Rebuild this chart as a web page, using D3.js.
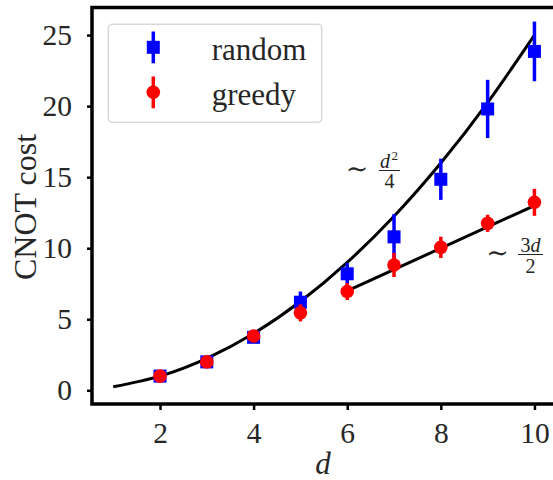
<!DOCTYPE html>
<html>
<head>
<meta charset="utf-8">
<script src="https://cdn.jsdelivr.net/npm/d3@7/dist/d3.min.js"></script>
<style>
  html, body { margin: 0; padding: 0; background: #fff; }
  svg { display: block; }
</style>
</head>
<body>
<svg id="chart" width="553" height="480"></svg>
<script>
// ---- data ----
const dims = [2, 3, 4, 5, 6, 7, 8, 9, 10];
const randomMean = [1.0, 2.0, 3.73, 6.2, 8.2, 10.8, 14.85, 19.8, 23.85];
const randomErr  = [0.1, 0.1, 0.2, 0.75, 0.75, 1.6, 1.45, 2.05, 2.1];
const greedyMean = [1.0, 2.0, 3.82, 5.45, 6.95, 8.82, 10.06, 11.75, 13.23];
const greedyErr  = [0.1, 0.1, 0.15, 0.6, 0.6, 0.85, 0.75, 0.6, 0.95];
// guide curves
const quadFitD = [1, 2, 3, 4, 5, 6, 7, 8, 9, 10];
const quadFitY = [0.25, 1, 2.25, 4, 6.25, 9, 12.25, 16, 20.25, 25];
const linFitD = [6, 10];
const linFitY = [7, 13];
const xTicks = [2, 4, 6, 8, 10];
const yTicks = [0, 5, 10, 15, 20, 25];
const seriesNames = ["random", "greedy"];

// ---- layout ----
const svg = d3.select("#chart");
const mLeft = 92, mRight = 555.5, mTop = 7.5, mBottom = 404;
const x = d3.scaleLinear().domain([0.547, 10.45]).range([mLeft, mRight]);
const y = d3.scaleLinear().domain([-0.964, 26.94]).range([mBottom, mTop]);
const serif = "'Liberation Serif', 'DejaVu Serif', serif";
const blue = "#0000ff", red = "#ff0000";

// axes
const yAxis = svg.append("g").attr("transform", `translate(${mLeft},0)`)
  .call(d3.axisLeft(y).tickValues(yTicks).tickSize(5).tickPadding(15).tickFormat(d3.format("d")));
const xAxis = svg.append("g").attr("transform", `translate(0,${mBottom})`)
  .call(d3.axisBottom(x).tickValues(xTicks).tickSize(6).tickPadding(12).tickFormat(d3.format("d")));
[xAxis, yAxis].forEach(g => {
  g.select(".domain").remove();
  g.selectAll(".tick line").attr("stroke", "#000").attr("stroke-width", 2.5);
  g.selectAll(".tick text").attr("fill", "#262626").style("font-family", serif).style("font-size", "29.5px");
});

// guide curves
svg.append("path")
  .datum(quadFitD.map((d, i) => [d, quadFitY[i]]))
  .attr("d", d3.line().x(d => x(d[0])).y(d => y(d[1])).curve(d3.curveNatural))
  .attr("fill", "none").attr("stroke", "#000").attr("stroke-width", 3);
svg.append("path")
  .datum(linFitD.map((d, i) => [d, linFitY[i]]))
  .attr("d", d3.line().x(d => x(d[0])).y(d => y(d[1])))
  .attr("fill", "none").attr("stroke", "#000").attr("stroke-width", 3);

// error bars + markers
function drawSeries(means, errs, color, shape) {
  const g = svg.append("g");
  dims.forEach((d, i) => {
    g.append("line")
      .attr("x1", x(d)).attr("x2", x(d))
      .attr("y1", y(means[i] - errs[i])).attr("y2", y(means[i] + errs[i]))
      .attr("stroke", color).attr("stroke-width", 3.5);
    if (shape === "square") {
      g.append("rect").attr("x", x(d) - 6.5).attr("y", y(means[i]) - 6.5)
        .attr("width", 13).attr("height", 13).attr("fill", color);
    } else {
      g.append("circle").attr("cx", x(d)).attr("cy", y(means[i])).attr("r", 6.8).attr("fill", color);
    }
  });
}
drawSeries(randomMean, randomErr, blue, "square");
drawSeries(greedyMean, greedyErr, red, "circle");

// frame
svg.append("rect").attr("x", mLeft).attr("y", mTop)
  .attr("width", mRight - mLeft).attr("height", mBottom - mTop)
  .attr("fill", "none").attr("stroke", "#000").attr("stroke-width", 3.5);

// legend
const lg = svg.append("g");
lg.append("rect").attr("x", 108.3).attr("y", 24.3).attr("width", 213.4).attr("height", 98)
  .attr("rx", 4).attr("fill", "#fff").attr("fill-opacity", 0.8)
  .attr("stroke", "#d8d8d8").attr("stroke-width", 1.5);
const legendY = [47.3, 92.3];
[[blue, "square"], [red, "circle"]].forEach(([c, s], i) => {
  const cy = legendY[i];
  lg.append("line").attr("x1", 153.3).attr("x2", 153.3).attr("y1", cy - 15.8).attr("y2", cy + 16)
    .attr("stroke", c).attr("stroke-width", 3.5);
  if (s === "square") {
    lg.append("rect").attr("x", 153.3 - 6.5).attr("y", cy - 6.5).attr("width", 13).attr("height", 13).attr("fill", c);
  } else {
    lg.append("circle").attr("cx", 153.3).attr("cy", cy).attr("r", 6.8).attr("fill", c);
  }
  lg.append("text").attr("x", 211.7).attr("y", cy + 12.5)
    .style("font-family", serif).style("font-size", "31px").attr("fill", "#262626")
    .text(seriesNames[i]);
});

// axis labels
svg.append("text").attr("x", 323).attr("y", 474).attr("text-anchor", "middle")
  .style("font-family", serif).style("font-size", "31px").style("font-style", "italic")
  .attr("fill", "#262626").text("d");
svg.append("text").attr("transform", "translate(36,207) rotate(-90)").attr("text-anchor", "middle")
  .style("font-family", serif).style("font-size", "32px").attr("fill", "#262626").text("CNOT cost");

// annotations
function tilde(cx, cy) {
  svg.append("text").attr("x", cx).attr("y", cy + 7).attr("text-anchor", "middle")
    .style("font-family", "'DejaVu Serif', serif").style("font-size", "27px").attr("fill", "#262626").text("\u223C");
}
tilde(357, 171);
// d^2 / 4
const f1 = svg.append("g").attr("fill", "#262626").style("font-family", serif);
f1.append("text").attr("x", 380).attr("y", 167.5).style("font-size", "20px").style("font-style", "italic").text("d");
f1.append("text").attr("x", 391.5).attr("y", 160).style("font-size", "13px").text("2");
f1.append("line").attr("x1", 379).attr("x2", 400).attr("y1", 170.5).attr("y2", 170.5).attr("stroke", "#262626").attr("stroke-width", 1);
f1.append("text").attr("x", 389.5).attr("y", 188).attr("text-anchor", "middle").style("font-size", "20px").text("4");
// 3d / 2
tilde(497.5, 255);
const f2 = svg.append("g").attr("fill", "#262626").style("font-family", serif);
const t3d = f2.append("text").attr("x", 530.5).attr("y", 251.5).attr("text-anchor", "middle").style("font-size", "20px");
t3d.append("tspan").text("3");
t3d.append("tspan").style("font-style", "italic").text("d");
f2.append("line").attr("x1", 518).attr("x2", 543).attr("y1", 254.5).attr("y2", 254.5).attr("stroke", "#262626").attr("stroke-width", 1);
f2.append("text").attr("x", 530.5).attr("y", 272.5).attr("text-anchor", "middle").style("font-size", "20px").text("2");
</script>
</body>
</html>
